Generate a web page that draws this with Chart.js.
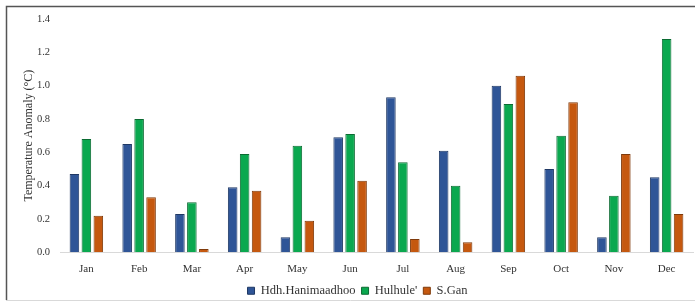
<!DOCTYPE html>
<html>
<head>
<meta charset="utf-8">
<script src="https://cdn.jsdelivr.net/npm/chart.js@4/dist/chart.umd.min.js"></script>
<style>
  html, body { margin: 0; padding: 0; background: #fff; }
  #wrap { width: 695px; height: 305px; position: relative; }
</style>
</head>
<body>
<div id="wrap"><canvas id="anomalyChart"></canvas></div>
<script>
const months = ['Jan', 'Feb', 'Mar', 'Apr', 'May', 'Jun', 'Jul', 'Aug', 'Sep', 'Oct', 'Nov', 'Dec'];
const hanimaadhoo = [0.47, 0.65, 0.23, 0.39, 0.09, 0.69, 0.93, 0.61, 1.00, 0.50, 0.09, 0.45];
const hulhule = [0.68, 0.80, 0.30, 0.59, 0.64, 0.71, 0.54, 0.40, 0.89, 0.70, 0.34, 1.28];
const gan = [0.22, 0.33, 0.02, 0.37, 0.19, 0.43, 0.08, 0.06, 1.06, 0.90, 0.59, 0.23];
const yTicks = [0.0, 0.2, 0.4, 0.6, 0.8, 1.0, 1.2, 1.4];

const serif = '"Liberation Serif", "DejaVu Serif", serif';

// outer frame like the figure box
const framePlugin = {
    id: 'frame',
    beforeDraw(chart) {
        const c = chart.ctx;
        c.save();
        c.strokeStyle = '#d9d9d9';
        c.lineWidth = 1;
        c.beginPath();
        c.moveTo(6, 300.5);
        c.lineTo(695, 300.5);
        c.stroke();
        c.strokeStyle = '#555';
        c.lineWidth = 1.5;
        c.beginPath();
        c.moveTo(6.5, 300);
        c.lineTo(6.5, 6.5);
        c.lineTo(695, 6.5);
        c.stroke();
        c.restore();
    }
};

document.addEventListener('DOMContentLoaded', function () {
    const ctx = document.getElementById('anomalyChart').getContext('2d');
    new Chart(ctx, {
        type: 'bar',
        data: {
            labels: months,
            datasets: [{
                label: 'Hdh.Hanimaadhoo',
                data: hanimaadhoo,
                backgroundColor: '#2f5597',
                borderColor: '#1f3864',
                borderWidth: 1
            }, {
                label: "Hulhule'",
                data: hulhule,
                backgroundColor: '#0aa84f',
                borderColor: '#0b6b32',
                borderWidth: 1
            }, {
                label: 'S.Gan',
                data: gan,
                backgroundColor: '#c5580f',
                borderColor: '#7f3a0b',
                borderWidth: 1
            }]
        },
        options: {
            responsive: true,
            maintainAspectRatio: false,
            animation: false,
            layout: { padding: { left: 22, right: 2, top: 19, bottom: -2 } },
            datasets: {
                bar: { categoryPercentage: 0.68, barPercentage: 0.8 }
            },
            plugins: {
                legend: {
                    position: 'bottom',
                    labels: {
                        boxWidth: 7,
                        boxHeight: 7,
                        padding: 6,
                        color: '#333',
                        font: { family: serif, size: 12.5 }
                    }
                },
                tooltip: { enabled: false }
            },
            scales: {
                x: {
                    afterFit: axis => { axis.height -= 7; },
                    grid: { display: false, drawTicks: false, tickLength: 1 },
                    border: { color: '#d9d9d9' },
                    ticks: {
                        color: '#333',
                        padding: 10,
                        font: { family: serif, size: 11 }
                    }
                },
                y: {
                    min: 0,
                    max: 1.4,
                    afterBuildTicks: axis => { axis.ticks = yTicks.map(v => ({ value: v })); },
                    afterFit: axis => { axis.width = 38; },
                    grid: { display: false, drawTicks: false },
                    border: { display: false },
                    ticks: {
                        color: '#333',
                        padding: 10,
                        font: { family: serif, size: 10.5 },
                        callback: value => Number(value).toFixed(1)
                    },
                    title: {
                        display: true,
                        text: 'Temperature Anomaly (°C)',
                        color: '#333',
                        padding: 0,
                        font: { family: serif, size: 12 }
                    }
                }
            }
        },
        plugins: [framePlugin]
    });
});
</script>
</body>
</html>
